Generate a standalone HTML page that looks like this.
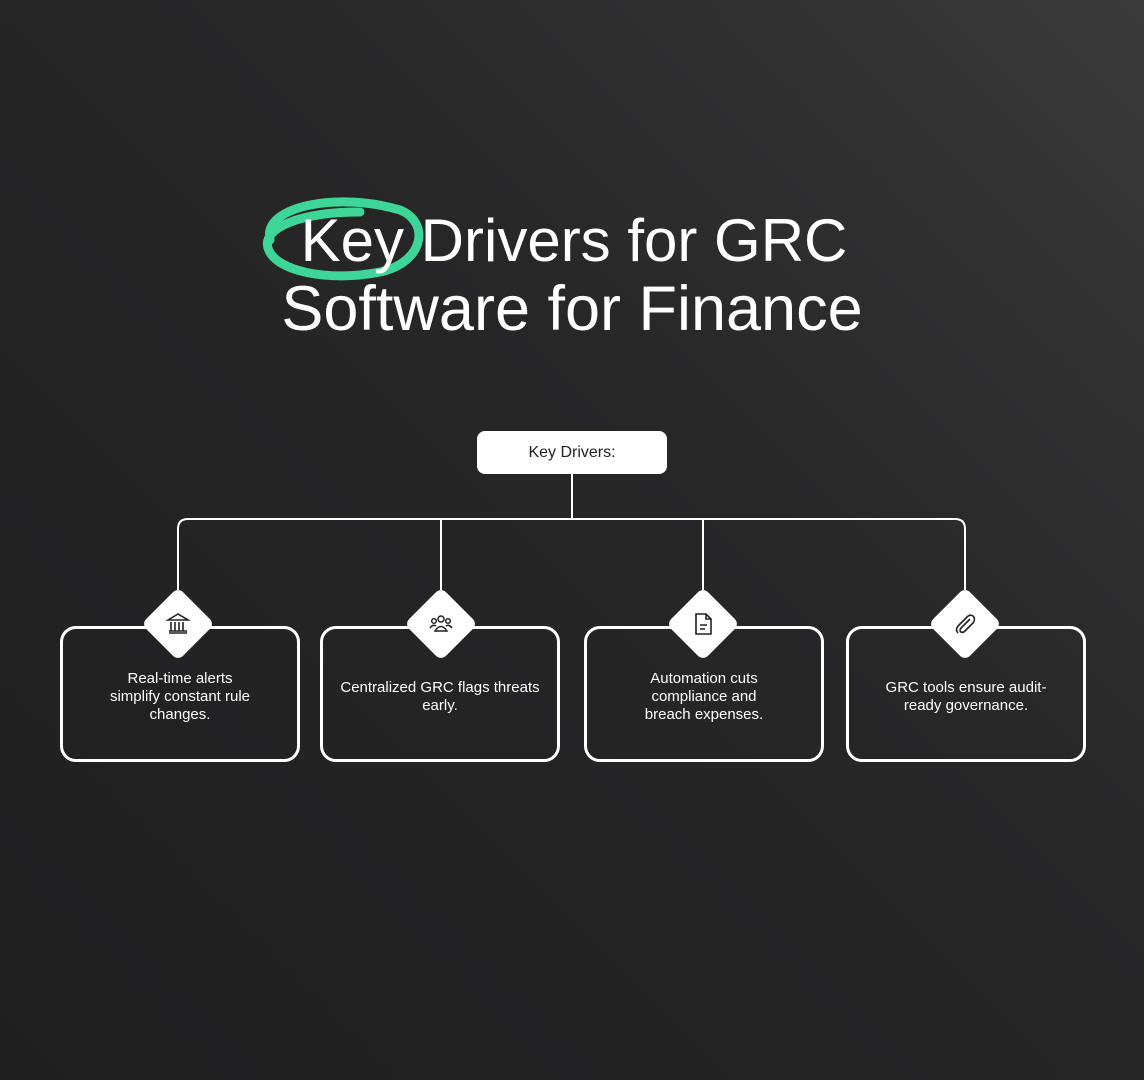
<!DOCTYPE html>
<html><head><style>
html,body{margin:0;padding:0}
body{width:1144px;height:1080px;position:relative;overflow:hidden;background:linear-gradient(225deg,#3a3a3b 0%,#272728 40%,#1f1f20 100%);font-family:"Liberation Sans",sans-serif;color:#fff}
.t{position:absolute;left:0;width:1144px;text-align:center;font-size:63px;font-weight:500;letter-spacing:0px;line-height:68px}
.box{position:absolute;top:626px;width:234px;height:130px;border:3px solid #fff;border-radius:16px;box-sizing:content-box}
.box p{position:absolute;left:0;right:0;top:0;bottom:0;margin:0;display:flex;align-items:center;justify-content:center;text-align:center;font-size:15px;line-height:18px;padding:0 36px;box-sizing:border-box;padding-top:6px}
.dia{position:absolute;width:52px;height:52px;background:#fff;border-radius:7px;transform:rotate(45deg);top:598px}
.ic{position:absolute;top:610px;width:28px;height:28px}
</style></head><body>
<svg width="1144" height="1080" style="position:absolute;left:0;top:0">
<path d="M270,240 C262,205 340,192 400,210 C430,222 425,262 380,272 C330,282 275,272 268,248 C262,228 300,212 360,212" fill="none" stroke="#3dd598" stroke-width="9" stroke-linecap="round"/>
<g fill="none" stroke="#fff" stroke-width="2">
<path d="M572,474 V519"/>
<path d="M178,590 V529 Q178,519 188,519 H955 Q965,519 965,529 V590"/>
<path d="M441,519 V590 M703,519 V590"/>
</g>
</svg>
<div class="t" style="top:207px;font-size:60px;left:2px">Key Drivers for GRC</div>
<div class="t" style="top:275px">Software for Finance</div>
<div style="position:absolute;left:477px;top:431px;width:190px;height:43px;background:#fff;border-radius:8px;color:#222;font-size:16px;display:flex;align-items:center;justify-content:center">Key Drivers:</div>
<div class="box" style="left:60px"><p style="padding:6px 44px 0">Real-time alerts simplify constant rule changes.</p></div>
<div class="box" style="left:320px"><p style="padding:6px 10px 0">Centralized GRC flags threats early.</p></div>
<div class="box" style="left:584px"><p style="padding:6px 50px 0">Automation cuts compliance and breach expenses.</p></div>
<div class="box" style="left:846px"><p style="padding:6px 30px 0">GRC tools ensure audit-ready governance.</p></div>
<div class="dia" style="left:152px"></div>
<div class="dia" style="left:415px"></div>
<div class="dia" style="left:677px"></div>
<div class="dia" style="left:939px"></div>
<svg class="ic" style="left:164px" viewBox="0 0 28 28" fill="none" stroke="#222" stroke-width="1.6"><path d="M4,10 L14,4 L24,10 Z M5,23 H23 M7,12 V21 M11,12 V21 M15,12 V21 M19,12 V21 M5,21 H23"/></svg>
<svg class="ic" style="left:427px" viewBox="0 0 28 28" fill="none" stroke="#222" stroke-width="1.5"><circle cx="14" cy="9" r="3"/><circle cx="7" cy="11" r="2.3"/><circle cx="21" cy="11" r="2.3"/><path d="M8,21 Q14,12 20,21 Z M3,18 Q6,14 9,16 M25,18 Q22,14 19,16"/></svg>
<svg class="ic" style="left:689px" viewBox="0 0 28 28" fill="none" stroke="#222" stroke-width="1.6"><path d="M7,4 H17 L22,9 V24 H7 Z M17,4 V9 H22 M11,15 H18 M11,19 H16"/></svg>
<svg class="ic" style="left:951px" viewBox="0 0 28 28" fill="none" stroke="#222" stroke-width="1.6"><path d="M19,9 L10,18 Q8,21 10,22 Q12,23 14,21 L22,13 Q25,9 22,6 Q19,4 16,7 L7,16 Q4,20 7,23"/></svg>
</body></html>
